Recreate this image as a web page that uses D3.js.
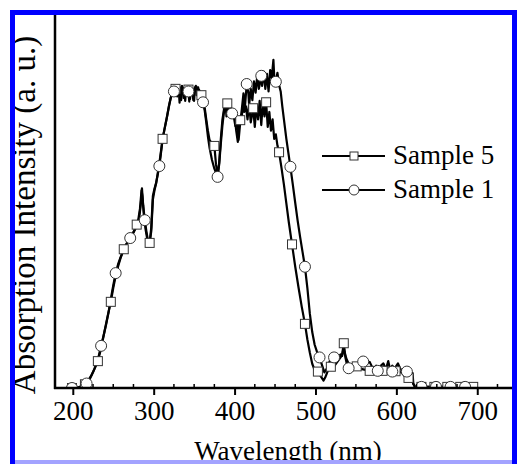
<!DOCTYPE html>
<html>
<head>
<meta charset="utf-8">
<script src="https://cdn.jsdelivr.net/npm/d3@7"></script>
<style>
  body { margin: 0; background: #fff; }
  text { font-family: "Liberation Serif", "Times New Roman", serif; fill: #000; }
</style>
</head>
<body>
<svg width="517" height="464"></svg>
<script>
const width = 517, height = 464;

// x tick labels
const xTicks = [200, 300, 400, 500, 600, 700];

// Sample 5 (squares): wavelength (nm), intensity (a.u.)
const wl5 = [190,199,207,211,215,219,223,227,231,234,237,240,243,247,250,253,256,259,263,266,269,272,275,279,281,283,285,286,288,290,292,295,297,299,301,303,305,308,311,313,316,319,322,324,327,329,330,332,334,335,337,339,340,343,345,346,348,350,351,353,355,356,359,361,363,365,367,369,372,375,377,379,381,383,385,387,389,391,392,394,396,398,400,402,404,405,407,409,411,412,414,416,418,420,423,425,427,429,431,433,435,437,439,441,443,445,447,449,451,453,455,458,461,464,467,471,475,479,483,487,490,493,496,499,503,507,510,512,516,519,523,527,531,533,535,536,538,541,545,551,555,559,563,567,571,575,578,583,587,591,595,599,603,607,611,615,619,621,623,631,647,663,679,695,700];
const abs5 = [0,0,0.002,0.005,0.010,0.020,0.034,0.052,0.072,0.098,0.128,0.160,0.192,0.231,0.268,0.300,0.326,0.348,0.372,0.385,0.396,0.406,0.418,0.438,0.452,0.480,0.530,0.515,0.460,0.425,0.400,0.389,0.420,0.505,0.530,0.548,0.575,0.618,0.668,0.690,0.722,0.758,0.785,0.800,0.802,0.782,0.805,0.798,0.772,0.808,0.800,0.770,0.806,0.800,0.775,0.806,0.800,0.770,0.805,0.808,0.780,0.800,0.785,0.770,0.752,0.720,0.690,0.665,0.655,0.649,0.600,0.570,0.605,0.668,0.720,0.748,0.760,0.763,0.735,0.758,0.740,0.725,0.730,0.690,0.660,0.700,0.718,0.730,0.770,0.740,0.755,0.720,0.762,0.712,0.750,0.700,0.758,0.720,0.770,0.705,0.765,0.728,0.766,0.700,0.740,0.690,0.720,0.668,0.680,0.650,0.632,0.590,0.545,0.495,0.445,0.385,0.325,0.270,0.218,0.172,0.130,0.095,0.065,0.048,0.044,0.030,0.020,0.028,0.050,0.057,0.058,0.070,0.082,0.090,0.120,0.097,0.080,0.065,0.055,0.058,0.052,0.050,0.048,0.046,0.048,0.060,0.045,0.046,0.050,0.046,0.060,0.045,0.046,0.040,0.030,0.027,0.025,0.010,0.003,0.003,0.003,0.003,0.003,0.003,0.003];
const marks5 = [199,215,231,247,263,279,295,311,327,343,359,375,391,407,423,439,455,471,487,503,519,535,551,567,583,599,615,631,647,663,679,695];

// Sample 1 (circles)
const wl1 = [190,199,208,213,217,221,225,229,232,235,238,241,244,247,250,253,256,259,262,265,268,271,274,277,280,282,284,285.5,287,289,291,293,295,297,299,301,303,305,307,309,311,313,315,317,319,321,323,325,327,328,329,331,332,333,335,337,338,340,343,344,345,347,349,350,352,353,355,357,358,361,363,365,367,369,372,375,379,381,383,385,387,389,390,392,394,395,397,399,401,403,405,407,409,411,413,415,417,418,420,422,424,426,428,430,433,434,436,438,440,442,444,446,448,449,451,453,455,457,459,461,464,469,472,475,478,481,484,487,490,493,496,499,502,505,508,511,514,518,523,527,531,533,535,537,539,541,545,549,553,559,563,567,571,574,577,581,584,587,590,592,595,599,602,605,609,613,617,620,621,623,631,649,667,685,700];
const abs1 = [0,0,0.002,0.006,0.012,0.024,0.042,0.064,0.085,0.113,0.140,0.168,0.200,0.238,0.275,0.308,0.332,0.350,0.366,0.380,0.392,0.402,0.412,0.425,0.438,0.455,0.490,0.535,0.490,0.450,0.420,0.395,0.389,0.430,0.515,0.535,0.550,0.572,0.595,0.630,0.666,0.690,0.712,0.733,0.756,0.778,0.790,0.795,0.808,0.785,0.806,0.800,0.765,0.803,0.810,0.778,0.805,0.800,0.795,0.768,0.805,0.808,0.772,0.800,0.810,0.785,0.806,0.758,0.788,0.766,0.745,0.712,0.675,0.645,0.612,0.588,0.566,0.600,0.655,0.705,0.742,0.756,0.728,0.765,0.758,0.735,0.736,0.728,0.702,0.722,0.665,0.712,0.748,0.790,0.758,0.815,0.792,0.758,0.802,0.772,0.822,0.792,0.836,0.802,0.837,0.810,0.848,0.802,0.842,0.795,0.852,0.832,0.880,0.835,0.821,0.845,0.812,0.795,0.755,0.720,0.668,0.593,0.545,0.496,0.448,0.405,0.365,0.325,0.268,0.200,0.150,0.116,0.096,0.082,0.062,0.042,0.052,0.074,0.082,0.080,0.090,0.086,0.112,0.082,0.062,0.053,0.060,0.058,0.068,0.071,0.064,0.070,0.052,0.056,0.046,0.060,0.066,0.050,0.072,0.052,0.044,0.056,0.066,0.050,0.048,0.044,0.043,0.040,0.012,0.003,0.003,0.003,0.003,0.003,0.003];
const marks1 = [199,217,235,253,271,289,307,325,343,361,379,397,415,433,451,469,487,505,523,541,559,577,595,613,631,649,667,685];

const svg = d3.select("svg");

const x = d3.scaleLinear().domain([178, 750]).range([55, 517.7]);
const y = d3.scaleLinear().domain([0, 1]).range([388, 15]);

const s5 = wl5.map((w, i) => ({ w: w, v: abs5[i] }));
const s1 = wl1.map((w, i) => ({ w: w, v: abs1[i] }));

svg.append("defs").append("clipPath").attr("id", "plotclip")
  .append("rect").attr("x", 55).attr("y", 0).attr("width", 470).attr("height", 388);

const plot = svg.append("g").attr("clip-path", "url(#plotclip)");

const line = d3.line().x(d => x(d.w)).y(d => y(d.v));

plot.append("path").datum(s5)
  .attr("d", line).attr("fill", "none").attr("stroke", "#000")
  .attr("stroke-width", 2.2).attr("stroke-linejoin", "round");
plot.append("path").datum(s1)
  .attr("d", line).attr("fill", "none").attr("stroke", "#000")
  .attr("stroke-width", 2.2).attr("stroke-linejoin", "round");

// markers sit on data points with matching wavelength
const sq = 9;
plot.selectAll(".sq")
  .data(marks5.map(m => s5.find(d => d.w === m)))
  .enter().append("rect")
  .attr("class", "sq")
  .attr("x", d => x(d.w) - sq / 2).attr("y", d => y(d.v) - sq / 2)
  .attr("width", sq).attr("height", sq)
  .attr("fill", "#fff").attr("stroke", "#333").attr("stroke-width", 1);

plot.selectAll(".ci")
  .data(marks1.map(m => s1.find(d => d.w === m)))
  .enter().append("circle")
  .attr("class", "ci")
  .attr("cx", d => x(d.w)).attr("cy", d => y(d.v)).attr("r", 5.5)
  .attr("fill", "#fff").attr("stroke", "#333").attr("stroke-width", 1);

// x axis
const xAxis = svg.append("g").attr("transform", "translate(0,388)");
xAxis.call(d3.axisBottom(x).tickValues(xTicks).tickSize(7).tickPadding(6).tickFormat(d3.format("d")));
xAxis.select(".domain").remove();
xAxis.selectAll(".tick line").attr("stroke-width", 2);
xAxis.selectAll(".tick text").attr("font-size", 27).attr("font-family", "Liberation Serif");

const minor = d3.range(225, 750, 25).filter(v => v % 100 !== 0);
xAxis.selectAll(".minor").data(minor).enter().append("line")
  .attr("class", "minor")
  .attr("x1", d => x(d)).attr("x2", d => x(d))
  .attr("y1", 0).attr("y2", -4)
  .attr("stroke", "#000").attr("stroke-width", 1.5);

svg.append("line").attr("x1", 54).attr("x2", 517).attr("y1", 388).attr("y2", 388)
  .attr("stroke", "#000").attr("stroke-width", 2.5);
svg.append("line").attr("x1", 55).attr("x2", 55).attr("y1", 15).attr("y2", 389)
  .attr("stroke", "#000").attr("stroke-width", 2.5);

// axis titles
svg.append("text").attr("x", 288).attr("y", 460).attr("text-anchor", "middle")
  .attr("font-size", 27).text("Wavelength (nm)");
svg.append("text")
  .attr("transform", "translate(35,215) rotate(-90)")
  .attr("text-anchor", "middle").attr("font-size", 33)
  .text("Absorption Intensity (a. u.)");

// legend
const legend = svg.append("g");
const items = [
  { label: "Sample 5", shape: "square", yy: 156 },
  { label: "Sample 1", shape: "circle", yy: 190 }
];
items.forEach(it => {
  legend.append("line").attr("x1", 322).attr("x2", 385).attr("y1", it.yy).attr("y2", it.yy)
    .attr("stroke", "#000").attr("stroke-width", 2);
  if (it.shape === "square") {
    legend.append("rect").attr("x", 350).attr("y", it.yy - 4).attr("width", 8).attr("height", 8)
      .attr("fill", "#fff").attr("stroke", "#333").attr("stroke-width", 1);
  } else {
    legend.append("circle").attr("cx", 354).attr("cy", it.yy).attr("r", 5)
      .attr("fill", "#fff").attr("stroke", "#333").attr("stroke-width", 1);
  }
  legend.append("text").attr("x", 393).attr("y", it.yy + 8).attr("font-size", 27).text(it.label);
});

// blue frame
svg.append("rect").attr("x", 10).attr("y", 460).attr("width", 507).attr("height", 4).attr("fill", "#a3a3ff");
svg.append("rect").attr("x", 10).attr("y", 10).attr("width", 5).attr("height", 454).attr("fill", "#0000ff");
svg.append("rect").attr("x", 10).attr("y", 10).attr("width", 507).attr("height", 5).attr("fill", "#0000ff");
svg.append("rect").attr("x", 512).attr("y", 10).attr("width", 5).attr("height", 454).attr("fill", "#0000ff");
</script>
</body>
</html>
